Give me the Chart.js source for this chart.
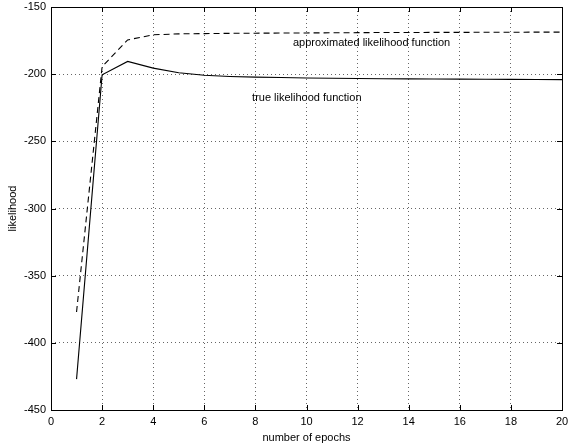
<!DOCTYPE html>
<html>
<head>
<meta charset="utf-8">
<script src="https://cdn.jsdelivr.net/npm/chart.js@4/dist/chart.umd.min.js"></script>
<style>
  html, body { margin: 0; padding: 0; background: #fff; }
  #wrap { width: 568px; height: 445px; }
</style>
</head>
<body>
<div id="wrap"><canvas id="chart"></canvas></div>
<script>
// epochs and the two likelihood curves
const epochs = [1, 2, 3, 4, 5, 6, 7, 8, 9, 10, 11, 12, 13, 14, 15, 16, 17, 18, 19, 20];
const trueLik = [-427, -200.5, -190.5, -195.5, -199, -200.8, -201.7, -202.2, -202.5, -202.8,
                 -203, -203.2, -203.4, -203.5, -203.6, -203.7, -203.8, -203.9, -204, -204.1];
const approxLik = [-377, -194.5, -174.5, -170.7, -170, -169.8, -169.6, -169.5, -169.4, -169.3,
                   -169.2, -169.1, -169, -169, -168.9, -168.9, -168.8, -168.8, -168.7, -168.7];
const xTicks = [0, 2, 4, 6, 8, 10, 12, 14, 16, 18, 20];
const yTicks = [-450, -400, -350, -300, -250, -200, -150];

const FONT = 'Liberation Sans, Arial, sans-serif';

const toPoints = (ys) => epochs.map((x, i) => ({ x: x, y: ys[i] }));

// text labels placed in data coordinates
const curveLabels = [
    { text: 'approximated likelihood function', x: 9.47, y: -176.8 },
    { text: 'true likelihood function', x: 7.87, y: -217.8 }
];

// MATLAB-like frame with inward tick marks and in-plot labels
const framePlugin = {
    id: 'frame',
    afterDatasetsDraw(chart) {
        const { ctx, chartArea: a, scales } = chart;
        ctx.save();
        ctx.strokeStyle = '#000';
        ctx.lineWidth = 1;
        ctx.setLineDash([]);
        ctx.beginPath();
        xTicks.forEach(t => {
            const px = Math.round(scales.x.getPixelForValue(t)) + 0.5;
            ctx.moveTo(px, a.bottom); ctx.lineTo(px, a.bottom - 5);
            ctx.moveTo(px, a.top); ctx.lineTo(px, a.top + 5);
        });
        yTicks.forEach(t => {
            const py = Math.round(scales.y.getPixelForValue(t)) + 0.5;
            ctx.moveTo(a.left, py); ctx.lineTo(a.left + 5, py);
            ctx.moveTo(a.right, py); ctx.lineTo(a.right - 5, py);
        });
        ctx.stroke();
        ctx.strokeRect(Math.round(a.left) + 0.5, Math.round(a.top) + 0.5,
                       Math.round(a.right - a.left), Math.round(a.bottom - a.top));

        ctx.fillStyle = '#000';
        ctx.font = '11px ' + FONT;
        ctx.textAlign = 'left';
        ctx.textBaseline = 'middle';
        curveLabels.forEach(l => {
            ctx.fillText(l.text, scales.x.getPixelForValue(l.x), scales.y.getPixelForValue(l.y));
        });
        ctx.restore();
    }
};

new Chart(document.getElementById('chart'), {
    type: 'line',
    data: {
        datasets: [
            {
                label: 'approximated likelihood function',
                data: toPoints(approxLik),
                borderColor: '#000',
                borderWidth: 1.1,
                borderDash: [6, 4],
                pointRadius: 0,
                tension: 0
            },
            {
                label: 'true likelihood function',
                data: toPoints(trueLik),
                borderColor: '#000',
                borderWidth: 1.1,
                pointRadius: 0,
                tension: 0
            }
        ]
    },
    options: {
        responsive: true,
        maintainAspectRatio: false,
        animation: false,
        layout: { padding: { top: 7, right: 6, left: 6, bottom: 0 } },
        plugins: {
            legend: { display: false },
            tooltip: { enabled: false }
        },
        scales: {
            x: {
                type: 'linear',
                min: 0,
                max: 20,
                afterBuildTicks: (s) => { s.ticks = xTicks.map(v => ({ value: v })); },
                afterFit: (s) => {
                    s.height = 35;
                    s.paddingLeft = 0;
                    s.paddingRight = 0;
                },
                grid: {
                    color: '#666',
                    lineWidth: 1,
                    drawTicks: false
                },
                border: { display: false, dash: [1, 3] },
                ticks: {
                    color: '#000',
                    font: { family: FONT, size: 11 },
                    padding: 5,
                    maxRotation: 0
                },
                title: {
                    display: true,
                    text: 'number of epochs',
                    color: '#000',
                    font: { family: FONT, size: 11 },
                    padding: { top: 0, bottom: 0 }
                }
            },
            y: {
                min: -450,
                max: -150,
                afterBuildTicks: (s) => { s.ticks = yTicks.map(v => ({ value: v })); },
                afterFit: (s) => {
                    s.width = 45;
                    s.paddingTop = 0;
                    s.paddingBottom = 0;
                },
                grid: {
                    color: '#666',
                    lineWidth: 1,
                    drawTicks: false
                },
                border: { display: false, dash: [1, 3] },
                ticks: {
                    color: '#000',
                    font: { family: FONT, size: 11 },
                    padding: 5
                },
                title: {
                    display: true,
                    text: 'likelihood',
                    color: '#000',
                    font: { family: FONT, size: 11 },
                    padding: { top: 0, bottom: 2 }
                }
            }
        }
    },
    plugins: [framePlugin]
});
</script>
</body>
</html>
